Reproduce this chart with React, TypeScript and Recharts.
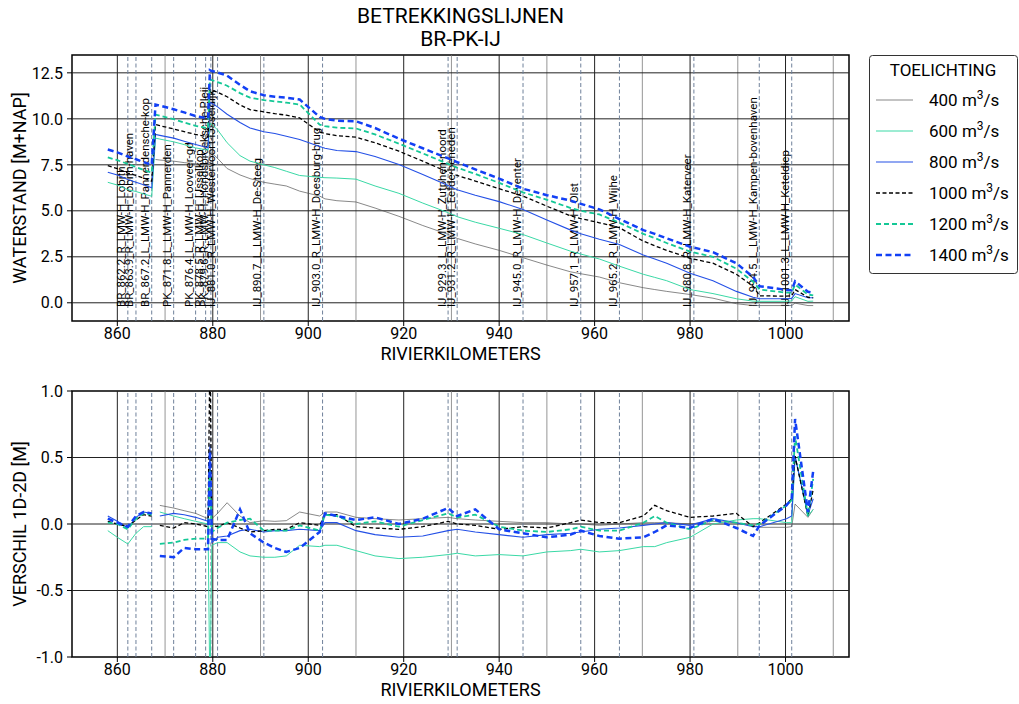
import React from 'react';
import { LineChart, Line, XAxis, YAxis, ReferenceLine, ReferenceArea } from 'recharts';

const FONT = "Roboto, 'DejaVu Sans', sans-serif";

// rivierkilometers (Bovenrijn, Pannerdensch Kanaal, IJssel)
const km = [
  858.0, 860.0, 862.2, 863.9, 865.5, 867.2,
  868.0, 868.9, 871.8, 874.0, 876.4, 879.0,
  879.4, 879.8, 881.0, 883.0, 885.7, 887.8, 890.7, 893.0, 895.4, 898.2,
  902.4, 903.5, 906.0, 910.0, 914.0, 919.0, 924.0, 929.3, 931.2, 935.0,
  940.0, 945.0, 950.0, 955.0, 957.1, 961.0, 965.2, 970.2, 972.6, 975.1,
  980.0, 984.8, 989.7, 993.2, 994.6, 1000.2, 1001.3, 1002.0, 1004.7, 1005.8,
];

// waterstand [m+NAP]
const wl400 = [
  null, null, null, null, null, null,
  7.79, 7.76, 7.70, 7.62, 7.56, 7.50,
  8.20, 8.15, 7.85, 7.30, 6.95, 6.75, 6.55, 6.45, 6.35, 6.07,
  5.80, 5.65, 5.55, 5.48, 5.15, 4.70, 4.20, 3.72, 3.50, 3.20,
  2.85, 2.45, 2.05, 1.68, 1.58, 1.40, 1.09, 0.82, 0.72, 0.62,
  0.45, 0.25, -0.05, -0.15, -0.15, -0.15, -0.15, -0.02, -0.15, -0.15,
];
const wl600 = [
  6.55, 6.40, 6.15, 6.05, 5.92, 5.79,
  8.95, 8.90, 8.75, 8.60, 8.42, 8.30,
  9.75, 9.70, 9.40, 8.70, 8.00, 7.70, 7.50, 7.35, 7.15, 6.92,
  6.82, 6.80, 6.78, 6.72, 6.35, 5.95, 5.42, 4.90, 4.68, 4.38,
  4.05, 3.71, 3.25, 2.80, 2.65, 2.38, 1.99, 1.55, 1.38, 1.20,
  0.72, 0.50, 0.22, 0.09, 0.08, 0.08, 0.10, 0.33, 0.08, 0.09,
];
const wl800 = [
  7.10, 6.95, 6.70, 6.55, 6.42, 6.25,
  9.15, 9.10, 8.95, 8.78, 8.60, 8.42,
  10.90, 10.85, 10.65, 10.25, 9.80, 9.50, 9.30, 9.20, 9.05, 8.88,
  8.50, 8.40, 8.28, 8.22, 7.95, 7.52, 6.98, 6.38, 6.15, 5.85,
  5.50, 5.07, 4.50, 3.95, 3.75, 3.45, 3.17, 2.60, 2.38, 2.15,
  1.60, 1.20, 0.62, 0.30, 0.22, 0.22, 0.24, 0.50, 0.27, 0.27,
];
const wl1000 = [
  7.45, 7.30, 7.05, 6.92, 6.78, 6.61,
  9.69, 9.63, 9.45, 9.30, 9.15, 9.02,
  11.60, 11.55, 11.45, 11.20, 10.75, 10.50, 10.38, 10.28, 10.20, 10.05,
  9.28, 9.20, 9.08, 9.00, 8.70, 8.24, 7.70, 7.10, 6.92, 6.62,
  6.20, 5.80, 5.25, 4.72, 4.58, 4.35, 4.08, 3.35, 3.10, 2.85,
  2.42, 2.15, 1.55, 0.90, 0.38, 0.36, 0.38, 0.72, 0.30, 0.27,
];
const wl1200 = [
  7.90, 7.75, 7.55, 7.38, 7.22, 7.07,
  10.23, 10.17, 9.98, 9.80, 9.62, 9.48,
  12.15, 12.10, 12.00, 11.80, 11.40, 11.15, 11.02, 10.95, 10.88, 10.78,
  9.68, 9.60, 9.52, 9.48, 9.15, 8.65, 8.12, 7.55, 7.35, 7.00,
  6.52, 6.00, 5.60, 5.15, 5.00, 4.80, 4.35, 3.75, 3.52, 3.25,
  2.78, 2.50, 1.85, 1.15, 0.72, 0.55, 0.55, 0.99, 0.45, 0.40,
];
const wl1400 = [
  8.33, 8.18, 7.95, 7.80, 7.65, 7.50,
  10.78, 10.72, 10.52, 10.35, 10.15, 10.02,
  12.65, 12.60, 12.52, 12.35, 11.85, 11.50, 11.28, 11.20, 11.15, 11.05,
  10.10, 10.00, 9.90, 9.87, 9.50, 8.92, 8.40, 7.85, 7.65, 7.25,
  6.75, 6.20, 5.85, 5.55, 5.38, 5.08, 4.55, 3.95, 3.75, 3.50,
  3.05, 2.75, 2.15, 1.40, 0.90, 0.70, 0.68, 1.17, 0.60, 0.54,
];

// verschil 1D-2D [m]
const d400 = [
  null, null, null, null, null, null,
  null, 0.14, 0.12, 0.10, 0.08, 0.04,
  0.30, 0.04, 0.08, 0.16, 0.06, 0.01, 0.025, 0.02, 0.025, 0.09,
  0.06, 0.09, 0.09, 0.05, 0.04, 0.03, 0.04, 0.05, 0.04, 0.03,
  0.02, 0.01, 0.01, 0.00, 0.00, -0.01, 0.00, 0.01, 0.01, 0.01,
  0.00, 0.02, 0.01, -0.01, -0.025, -0.025, -0.02, 0.15, 0.05, 0.11,
];
const d600 = [
  -0.05, -0.10, -0.15, -0.07, -0.02, -0.02,
  null, 0.09, 0.06, 0.04, 0.02, 0.00,
  -1.30, -0.16, -0.14, -0.14, -0.21, -0.24, -0.25, -0.25, -0.24, -0.16,
  -0.17, -0.16, -0.16, -0.20, -0.24, -0.26, -0.25, -0.23, -0.22, -0.24,
  -0.23, -0.24, -0.21, -0.20, -0.19, -0.21, -0.20, -0.17, -0.17, -0.14,
  -0.10, 0.00, 0.03, 0.04, 0.04, 0.01, 0.01, 0.51, 0.06, 0.11,
];
const d800 = [
  0.06, 0.02, -0.03, 0.05, 0.09, 0.08,
  null, 0.06, 0.08, 0.07, 0.05, 0.02,
  0.60, -0.14, -0.10, -0.09, -0.05, -0.04, -0.06, -0.05, -0.05, -0.04,
  -0.05, 0.01, 0.01, -0.05, -0.08, -0.10, -0.09, -0.05, -0.04, -0.06,
  -0.08, -0.10, -0.08, -0.07, -0.06, -0.04, -0.03, -0.01, 0.00, 0.01,
  -0.01, 0.04, 0.01, -0.02, -0.02, 0.04, 0.06, 0.51, 0.07, 0.19,
];
const d1000 = [
  0.02, 0.00, -0.02, 0.03, 0.07, 0.06,
  null, -0.01, -0.03, 0.01, 0.00, -0.02,
  1.30, -0.01, -0.02, 0.01, -0.03, -0.06, -0.05, -0.04, -0.04, 0.01,
  -0.01, 0.07, 0.07, -0.02, -0.03, -0.04, -0.02, 0.02, 0.00, -0.01,
  -0.04, -0.02, -0.03, 0.01, 0.03, 0.01, 0.01, 0.06, 0.14, 0.10,
  0.05, 0.06, 0.08, -0.02, 0.01, 0.15, 0.19, 0.51, 0.06, 0.26,
];
const d1200 = [
  0.01, 0.00, -0.04, 0.04, 0.08, 0.07,
  null, -0.15, -0.14, -0.12, -0.11, -0.11,
  0.40, -0.06, -0.03, 0.01, 0.03, 0.04, -0.05, -0.05, -0.05, -0.01,
  -0.05, 0.07, 0.06, 0.00, 0.02, -0.02, 0.03, 0.08, 0.05, 0.07,
  -0.02, -0.05, -0.06, -0.04, -0.02, -0.05, -0.05, 0.01, 0.06, 0.01,
  -0.04, 0.03, 0.01, -0.01, 0.00, 0.14, 0.18, 0.66, 0.06, 0.34,
];
const d1400 = [
  0.04, 0.01, -0.02, 0.06, 0.09, 0.08,
  null, -0.24, -0.25, -0.18, -0.19, -0.19,
  0.55, -0.11, -0.12, -0.12, 0.11, -0.07, -0.14, -0.18, -0.21, -0.18,
  -0.06, 0.08, 0.06, 0.03, 0.05, 0.00, 0.04, 0.12, 0.06, 0.11,
  -0.04, -0.07, -0.10, -0.08, -0.05, -0.09, -0.11, -0.10, -0.06, -0.01,
  -0.03, 0.04, -0.03, -0.09, -0.01, 0.14, 0.19, 0.79, 0.09, 0.40,
];

// meetlocaties
const stationKm = [862.2, 863.9, 867.2, 871.8, 876.4, 878.5, 879.6, 881.0, 890.7, 903.0, 929.3, 931.2, 945.0, 957.1, 965.2, 980.8, 994.5, 1001.3];
const stationNames = [
  'BR_862.2_R_LMW-H_Lobith',
  'BR_863.9_R_LMW-H_Lobith-haven',
  'BR_867.2_L_LMW-H_Pannerdensche-kop',
  'PK_871.8_L_LMW-H_Pannerden',
  'PK_876.4_L_LMW-H_Looveer-gd',
  'PK_878.5_R_LMW-H_IJsselkop',
  'PK_879.6_R_LMW-H_Hondsbroeksche-Pleij',
  'IJ_881.0_R_LMW-H_Westervoort-IJsseldijk',
  'IJ_890.7_L_LMW-H_De-Steeg',
  'IJ_903.0_R_LMW-H_Doesburg-brug',
  'IJ_929.3_L_LMW-H_Zutphen-noord',
  'IJ_931.2_R_LMW-H_Eefde-beneden',
  'IJ_945.0_R_LMW-H_Deventer',
  'IJ_957.1_R_LMW-H_Olst',
  'IJ_965.2_R_LMW-H_Wijhe',
  'IJ_980.8_R_LMW-H_Katerveer',
  'IJ_994.5_L_LMW-H_Kampen-bovenhaven',
  'IJ_1001.3_L_LMW-H_Keteldiep',
];

const xTicks = [860, 880, 900, 920, 940, 960, 980, 1000];
const xMinor = [870, 890, 910, 930, 950, 970, 990, 1010];
const wlTicks = [0, 2.5, 5, 7.5, 10, 12.5];
const dTicks = [-1, -0.5, 0, 0.5, 1];

const X_DOMAIN = [850.5, 1013.3];
const WL_DOMAIN = [-0.99, 13.47];
const D_DOMAIN = [-1, 1];

const series = [
  { key: '400', wl: wl400, d: d400, color: '#555555', width: 0.7, dash: undefined },
  { key: '600', wl: wl600, d: d600, color: '#3ad9a6', width: 1, dash: undefined },
  { key: '800', wl: wl800, d: d800, color: '#2450e6', width: 1.1, dash: undefined },
  { key: '1000', wl: wl1000, d: d1000, color: '#000000', width: 1.3, dash: '4 2.5' },
  { key: '1200', wl: wl1200, d: d1200, color: '#14c896', width: 1.8, dash: '5 3' },
  { key: '1400', wl: wl1400, d: d1400, color: '#1240f5', width: 2.5, dash: '6 3.5' },
];

const wlData = km.map((k, i) => {
  const row: any = { km: k };
  series.forEach((s) => { row[s.key] = s.wl[i]; });
  return row;
});
const dData = km.map((k, i) => {
  const row: any = { km: k };
  series.forEach((s) => { row[s.key] = s.d[i]; });
  return row;
});

const tickStyle = { fill: '#000', fontSize: 16, fontFamily: FONT };

const stationLabel = (text: string) => (props: any) => {
  const vb = props.viewBox || {};
  const x = (vb.x ?? 0) - 2.5;
  const y = (vb.y ?? 0) + (vb.height ?? 0) - 14;
  return (
    <text x={x} y={y} transform={`rotate(-90 ${x} ${y})`} fontSize={11.5} fontFamily={FONT} fill="#000">
      {text}
    </text>
  );
};

const xLabel = (props: any) => {
  const vb = props.viewBox || {};
  const x = (vb.x ?? 0) + (vb.width ?? 0) / 2;
  const y = (vb.y ?? 0) + 39;
  return (
    <text x={x} y={y} textAnchor="middle" fontSize={18} fontFamily={FONT} fill="#000">RIVIERKILOMETERS</text>
  );
};

const yLabel = (text: string) => (props: any) => {
  const vb = props.viewBox || {};
  const x = (vb.x ?? 0) + 26;
  const y = (vb.y ?? 0) + (vb.height ?? 0) / 2;
  return (
    <text x={x} y={y} transform={`rotate(-90 ${x} ${y})`} textAnchor="middle" fontSize={18} fontFamily={FONT} fill="#000">
      {text}
    </text>
  );
};

const gridLines = (yTicks: number[], withLabels: boolean) => [
  ...xMinor.map((v) => (
    <ReferenceLine key={'mn' + v} x={v} stroke="#7a7a7a" strokeWidth={0.8} />
  )),
  ...xTicks.map((v) => (
    <ReferenceLine key={'mj' + v} x={v} stroke="#222" strokeWidth={1} />
  )),
  ...yTicks.map((v) => (
    <ReferenceLine key={'h' + v} y={v} stroke="#222" strokeWidth={1} />
  )),
  ...stationKm.map((v, i) => (
    <ReferenceLine
      key={'st' + v}
      x={v}
      stroke="#6f819a"
      strokeWidth={1}
      strokeDasharray="4 2.5"
      label={withLabels ? stationLabel(stationNames[i]) : undefined}
    />
  )),
];

const Legend = () => (
  <svg width={152} height={222} style={{ position: 'absolute', left: 868, top: 54 }}>
    <rect x={1.5} y={1.5} width={148} height={218} rx={3} fill="#fff" stroke="#333" strokeWidth={1} />
    <text x={75} y={22} textAnchor="middle" fontSize={17} fontFamily={FONT} fill="#000">TOELICHTING</text>
    {series.map((s, i) => {
      const cy = 46 + i * 31;
      return (
        <g key={s.key}>
          <line x1={8} x2={45} y1={cy} y2={cy} stroke={s.color} strokeWidth={s.width} strokeDasharray={s.dash} />
          <text x={61} y={cy + 6} fontSize={17} fontFamily={FONT} fill="#000">
            {s.key} m<tspan dy={-7} fontSize={12}>3</tspan><tspan dy={7}>/s</tspan>
          </text>
        </g>
      );
    })}
  </svg>
);

export default function App() {
  return (
    <div style={{ position: 'absolute', left: 0, top: 0, width: 1019, height: 704, background: '#fff', fontFamily: FONT }}>
      <div style={{ position: 'absolute', left: 72, top: 5, width: 777, textAlign: 'center', fontSize: 21, lineHeight: '23px', color: '#000' }}>
        BETREKKINGSLIJNEN<br />BR-PK-IJ
      </div>

      <div style={{ position: 'absolute', left: 0, top: 0 }}>
        <LineChart width={1019} height={370} data={wlData} margin={{ top: 55, right: 170, bottom: 19, left: 0 }}>
          <XAxis
            dataKey="km"
            type="number"
            domain={X_DOMAIN}
            ticks={xTicks}
            allowDataOverflow
            height={30}
            tick={tickStyle}
            tickSize={5}
            axisLine={false}
            tickLine={{ stroke: '#000' }}
            label={xLabel}
          />
          <YAxis
            type="number"
            domain={WL_DOMAIN}
            ticks={wlTicks}
            allowDataOverflow
            width={72}
            tick={tickStyle}
            tickSize={5}
            tickMargin={4}
            axisLine={false}
            tickLine={{ stroke: '#000' }}
            tickFormatter={(v: number) => v.toFixed(1)}
            label={yLabel('WATERSTAND [M+NAP]')}
          />
          {gridLines(wlTicks, true)}
          {series.map((s) => (
            <Line
              key={s.key}
              dataKey={s.key}
              type="linear"
              stroke={s.color}
              strokeWidth={s.width}
              strokeDasharray={s.dash}
              dot={false}
              activeDot={false}
              connectNulls={false}
              isAnimationActive={false}
            />
          ))}
          <ReferenceArea x1={X_DOMAIN[0]} x2={X_DOMAIN[1]} y1={WL_DOMAIN[0]} y2={WL_DOMAIN[1]} fill="none" stroke="#000" strokeWidth={1.5} ifOverflow="visible" />
        </LineChart>
      </div>

      <div style={{ position: 'absolute', left: 0, top: 340 }}>
        <LineChart width={1019} height={364} data={dData} margin={{ top: 51, right: 170, bottom: 17, left: 0 }}>
          <XAxis
            dataKey="km"
            type="number"
            domain={X_DOMAIN}
            ticks={xTicks}
            allowDataOverflow
            height={30}
            tick={tickStyle}
            tickSize={5}
            axisLine={false}
            tickLine={{ stroke: '#000' }}
            label={xLabel}
          />
          <YAxis
            type="number"
            domain={D_DOMAIN}
            ticks={dTicks}
            allowDataOverflow
            width={72}
            tick={tickStyle}
            tickSize={5}
            tickMargin={4}
            axisLine={false}
            tickLine={{ stroke: '#000' }}
            tickFormatter={(v: number) => v.toFixed(1)}
            label={yLabel('VERSCHIL 1D-2D [M]')}
          />
          {gridLines(dTicks.filter((v) => Math.abs(v) < 1), false)}
          {series.map((s) => (
            <Line
              key={s.key}
              dataKey={s.key}
              type="linear"
              stroke={s.color}
              strokeWidth={s.width}
              strokeDasharray={s.dash}
              dot={false}
              activeDot={false}
              connectNulls={false}
              isAnimationActive={false}
            />
          ))}
          <ReferenceArea x1={X_DOMAIN[0]} x2={X_DOMAIN[1]} y1={D_DOMAIN[0]} y2={D_DOMAIN[1]} fill="none" stroke="#000" strokeWidth={1.5} ifOverflow="visible" />
        </LineChart>
      </div>

      <Legend />
    </div>
  );
}
